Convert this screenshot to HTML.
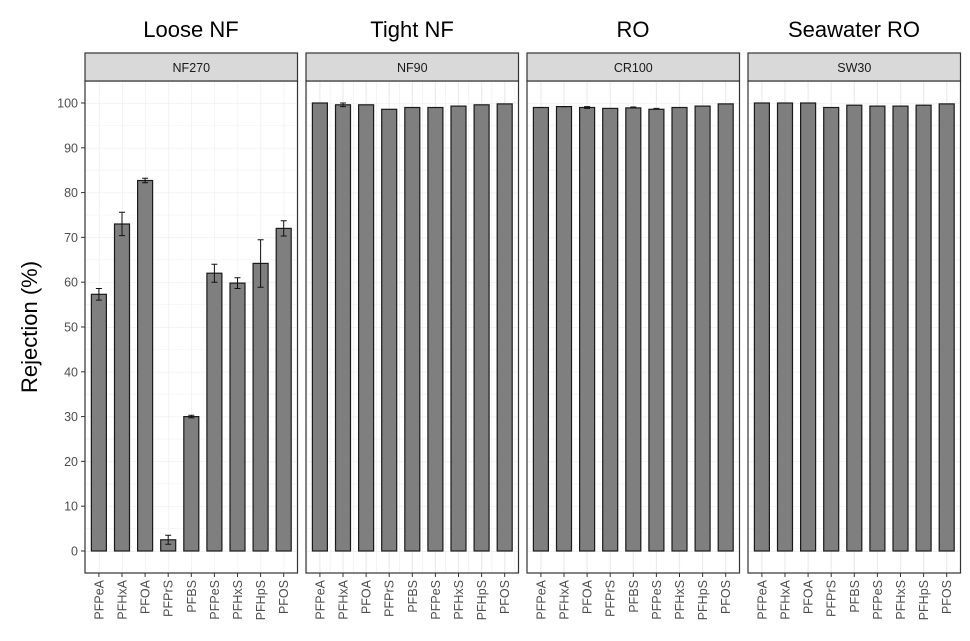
<!DOCTYPE html>
<html><head><meta charset="utf-8"><style>body{margin:0;background:#fff}</style></head><body>
<svg width="970" height="636" xmlns="http://www.w3.org/2000/svg" font-family="Liberation Sans, sans-serif">
<defs>
<pattern id="gv" patternUnits="userSpaceOnUse" x="98.9" y="0" width="23.098" height="10"><line x1="0" y1="0" x2="0" y2="10" stroke="#ebebeb" stroke-width="1.2"/></pattern>
<pattern id="gh" patternUnits="userSpaceOnUse" x="0" y="103" width="10" height="44.8"><line x1="0" y1="0" x2="10" y2="0" stroke="#ebebeb" stroke-width="1.2"/><line x1="0" y1="22.4" x2="10" y2="22.4" stroke="#f2f2f2" stroke-width="0.7"/></pattern>
</defs>
<rect width="970" height="636" fill="#fff"/>

<g id="titles" font-size="22" text-anchor="middle" fill="#000">
<text x="191" y="37">Loose NF</text>
<text x="412" y="37">Tight NF</text>
<text x="633" y="37">RO</text>
<text x="854" y="37">Seawater RO</text>
</g>
<text transform="translate(37,327) rotate(-90)" text-anchor="middle" font-size="22" fill="#000">Rejection (%)</text>

<g font-size="12.5" fill="#4d4d4d" text-anchor="end">
<text x="78" y="555.5">0</text><text x="78" y="510.7">10</text><text x="78" y="465.9">20</text><text x="78" y="421.1">30</text><text x="78" y="376.3">40</text><text x="78" y="331.5">50</text><text x="78" y="286.7">60</text><text x="78" y="241.9">70</text><text x="78" y="197.1">80</text><text x="78" y="152.3">90</text><text x="78" y="107.5">100</text>
</g>
<g stroke="#333">
<line x1="81" x2="85" y1="551" y2="551"/><line x1="81" x2="85" y1="506.2" y2="506.2"/><line x1="81" x2="85" y1="461.4" y2="461.4"/><line x1="81" x2="85" y1="416.6" y2="416.6"/><line x1="81" x2="85" y1="371.8" y2="371.8"/><line x1="81" x2="85" y1="327" y2="327"/><line x1="81" x2="85" y1="282.2" y2="282.2"/><line x1="81" x2="85" y1="237.4" y2="237.4"/><line x1="81" x2="85" y1="192.6" y2="192.6"/><line x1="81" x2="85" y1="147.8" y2="147.8"/><line x1="81" x2="85" y1="103" y2="103"/>
</g>

<!-- panel backgrounds with grid -->
<g>
<rect x="85" y="81" width="212.5" height="492" fill="url(#gh)"/>
<rect x="85" y="81" width="212.5" height="492" fill="url(#gv)"/>
<rect x="306" y="81" width="212.5" height="492" fill="url(#gh)"/>
<rect x="306" y="81" width="212.5" height="492" fill="url(#gv)" transform="translate(0,0)"/>
<rect x="527" y="81" width="212.5" height="492" fill="url(#gh)"/>
<rect x="748" y="81" width="212.5" height="492" fill="url(#gh)"/>
</g>
<g stroke="#ebebeb" stroke-width="1.2">
<line x1="319.9" x2="319.9" y1="81" y2="573"/><line x1="343" x2="343" y1="81" y2="573"/><line x1="366.1" x2="366.1" y1="81" y2="573"/><line x1="389.2" x2="389.2" y1="81" y2="573"/><line x1="412.3" x2="412.3" y1="81" y2="573"/><line x1="435.4" x2="435.4" y1="81" y2="573"/><line x1="458.5" x2="458.5" y1="81" y2="573"/><line x1="481.6" x2="481.6" y1="81" y2="573"/><line x1="504.7" x2="504.7" y1="81" y2="573"/>
<line x1="540.9" x2="540.9" y1="81" y2="573"/><line x1="564" x2="564" y1="81" y2="573"/><line x1="587.1" x2="587.1" y1="81" y2="573"/><line x1="610.2" x2="610.2" y1="81" y2="573"/><line x1="633.3" x2="633.3" y1="81" y2="573"/><line x1="656.4" x2="656.4" y1="81" y2="573"/><line x1="679.5" x2="679.5" y1="81" y2="573"/><line x1="702.6" x2="702.6" y1="81" y2="573"/><line x1="725.7" x2="725.7" y1="81" y2="573"/>
<line x1="761.9" x2="761.9" y1="81" y2="573"/><line x1="785" x2="785" y1="81" y2="573"/><line x1="808.1" x2="808.1" y1="81" y2="573"/><line x1="831.2" x2="831.2" y1="81" y2="573"/><line x1="854.3" x2="854.3" y1="81" y2="573"/><line x1="877.4" x2="877.4" y1="81" y2="573"/><line x1="900.5" x2="900.5" y1="81" y2="573"/><line x1="923.6" x2="923.6" y1="81" y2="573"/><line x1="946.7" x2="946.7" y1="81" y2="573"/>
</g>

<!-- bars -->
<g fill="#7f7f7f" stroke="#1a1a1a" stroke-width="1.2">
<rect x="91.4" y="294.3" width="15" height="256.7"/>
<rect x="114.5" y="224" width="15" height="327"/>
<rect x="137.6" y="180.5" width="15" height="370.5"/>
<rect x="160.7" y="539.8" width="15" height="11.2"/>
<rect x="183.8" y="416.6" width="15" height="134.4"/>
<rect x="206.9" y="273.2" width="15" height="277.8"/>
<rect x="230" y="283.1" width="15" height="267.9"/>
<rect x="253.1" y="263.4" width="15" height="287.6"/>
<rect x="276.2" y="228.4" width="15" height="322.6"/>

<rect x="312.4" y="103" width="15" height="448"/>
<rect x="335.5" y="104.8" width="15" height="446.2"/>
<rect x="358.6" y="104.8" width="15" height="446.2"/>
<rect x="381.7" y="109.3" width="15" height="441.7"/>
<rect x="404.8" y="107.5" width="15" height="443.5"/>
<rect x="427.9" y="107.5" width="15" height="443.5"/>
<rect x="451" y="106.1" width="15" height="444.9"/>
<rect x="474.1" y="104.8" width="15" height="446.2"/>
<rect x="497.2" y="103.9" width="15" height="447.1"/>

<rect x="533.4" y="107.5" width="15" height="443.5"/>
<rect x="556.5" y="106.6" width="15" height="444.4"/>
<rect x="579.6" y="107.5" width="15" height="443.5"/>
<rect x="602.7" y="108.4" width="15" height="442.6"/>
<rect x="625.8" y="107.9" width="15" height="443.1"/>
<rect x="648.9" y="109.3" width="15" height="441.7"/>
<rect x="672" y="107.5" width="15" height="443.5"/>
<rect x="695.1" y="106.1" width="15" height="444.9"/>
<rect x="718.2" y="103.9" width="15" height="447.1"/>

<rect x="754.4" y="103" width="15" height="448"/>
<rect x="777.5" y="103" width="15" height="448"/>
<rect x="800.6" y="103" width="15" height="448"/>
<rect x="823.7" y="107.5" width="15" height="443.5"/>
<rect x="846.8" y="105.2" width="15" height="445.8"/>
<rect x="869.9" y="106.1" width="15" height="444.9"/>
<rect x="893" y="106.1" width="15" height="444.9"/>
<rect x="916.1" y="105.2" width="15" height="445.8"/>
<rect x="939.2" y="103.9" width="15" height="447.1"/>
</g>

<!-- error bars -->
<g stroke="#111" stroke-width="1" fill="none">
<path d="M98.9 288.5V300.1M95.9 288.5H101.9M95.9 300.1H101.9"/>
<path d="M122 212.3V235.6M119 212.3H125M119 235.6H125"/>
<path d="M145.1 178.3V182.8M142.1 178.3H148.1M142.1 182.8H148.1"/>
<path d="M168.2 535.3V544.3M165.2 535.3H171.2M165.2 544.3H171.2"/>
<path d="M191.3 415.3V417.9M188.3 415.3H194.3M188.3 417.9H194.3"/>
<path d="M214.4 264.2V282.2M211.4 264.2H217.4M211.4 282.2H217.4"/>
<path d="M237.5 277.7V288.5M234.5 277.7H240.5M234.5 288.5H240.5"/>
<path d="M260.6 239.7V287.2M257.6 239.7H263.6M257.6 287.2H263.6"/>
<path d="M283.7 220.8V236M280.7 220.8H286.7M280.7 236H286.7"/>
<path d="M340 103H346M340 106.6H346M343 103V106.6"/>
<path d="M537.9 107.5H543.9M561 106.6H567M584.1 106.6H590.1M584.1 108.4H590.1M630.3 107H636.3M653.4 108.4H659.4"/>
</g>

<!-- panel borders & strips -->
<g fill="none" stroke="#333" stroke-width="1.2">
<rect x="85" y="81" width="212.5" height="492"/>
<rect x="306" y="81" width="212.5" height="492"/>
<rect x="527" y="81" width="212.5" height="492"/>
<rect x="748" y="81" width="212.5" height="492"/>
</g>
<g fill="#d9d9d9" stroke="#333" stroke-width="1.2">
<rect x="85" y="53" width="212.5" height="28"/>
<rect x="306" y="53" width="212.5" height="28"/>
<rect x="527" y="53" width="212.5" height="28"/>
<rect x="748" y="53" width="212.5" height="28"/>
</g>
<g font-size="12.5" fill="#1a1a1a" text-anchor="middle">
<text x="191.3" y="72">NF270</text>
<text x="412.3" y="72">NF90</text>
<text x="633.3" y="72">CR100</text>
<text x="854.3" y="72">SW30</text>
</g>

<!-- x ticks -->
<g stroke="#333">
<path d="M98.9 573v4M122 573v4M145.1 573v4M168.2 573v4M191.3 573v4M214.4 573v4M237.5 573v4M260.6 573v4M283.7 573v4"/>
<path d="M319.9 573v4M343 573v4M366.1 573v4M389.2 573v4M412.3 573v4M435.4 573v4M458.5 573v4M481.6 573v4M504.7 573v4"/>
<path d="M540.9 573v4M564 573v4M587.1 573v4M610.2 573v4M633.3 573v4M656.4 573v4M679.5 573v4M702.6 573v4M725.7 573v4"/>
<path d="M761.9 573v4M785 573v4M808.1 573v4M831.2 573v4M854.3 573v4M877.4 573v4M900.5 573v4M923.6 573v4M946.7 573v4"/>
</g>

<!-- x labels -->
<g font-size="12.5" fill="#4d4d4d" text-anchor="end">
<text transform="translate(103.4,580) rotate(-90)">PFPeA</text>
<text transform="translate(126.5,580) rotate(-90)">PFHxA</text>
<text transform="translate(149.6,580) rotate(-90)">PFOA</text>
<text transform="translate(172.7,580) rotate(-90)">PFPrS</text>
<text transform="translate(195.8,580) rotate(-90)">PFBS</text>
<text transform="translate(218.9,580) rotate(-90)">PFPeS</text>
<text transform="translate(242,580) rotate(-90)">PFHxS</text>
<text transform="translate(265.1,580) rotate(-90)">PFHpS</text>
<text transform="translate(288.2,580) rotate(-90)">PFOS</text>

<text transform="translate(324.4,580) rotate(-90)">PFPeA</text>
<text transform="translate(347.5,580) rotate(-90)">PFHxA</text>
<text transform="translate(370.6,580) rotate(-90)">PFOA</text>
<text transform="translate(393.7,580) rotate(-90)">PFPrS</text>
<text transform="translate(416.8,580) rotate(-90)">PFBS</text>
<text transform="translate(439.9,580) rotate(-90)">PFPeS</text>
<text transform="translate(463,580) rotate(-90)">PFHxS</text>
<text transform="translate(486.1,580) rotate(-90)">PFHpS</text>
<text transform="translate(509.2,580) rotate(-90)">PFOS</text>

<text transform="translate(545.4,580) rotate(-90)">PFPeA</text>
<text transform="translate(568.5,580) rotate(-90)">PFHxA</text>
<text transform="translate(591.6,580) rotate(-90)">PFOA</text>
<text transform="translate(614.7,580) rotate(-90)">PFPrS</text>
<text transform="translate(637.8,580) rotate(-90)">PFBS</text>
<text transform="translate(660.9,580) rotate(-90)">PFPeS</text>
<text transform="translate(684,580) rotate(-90)">PFHxS</text>
<text transform="translate(707.1,580) rotate(-90)">PFHpS</text>
<text transform="translate(730.2,580) rotate(-90)">PFOS</text>

<text transform="translate(766.4,580) rotate(-90)">PFPeA</text>
<text transform="translate(789.5,580) rotate(-90)">PFHxA</text>
<text transform="translate(812.6,580) rotate(-90)">PFOA</text>
<text transform="translate(835.7,580) rotate(-90)">PFPrS</text>
<text transform="translate(858.8,580) rotate(-90)">PFBS</text>
<text transform="translate(881.9,580) rotate(-90)">PFPeS</text>
<text transform="translate(905,580) rotate(-90)">PFHxS</text>
<text transform="translate(928.1,580) rotate(-90)">PFHpS</text>
<text transform="translate(951.2,580) rotate(-90)">PFOS</text>
</g>
</svg>
</body></html>
